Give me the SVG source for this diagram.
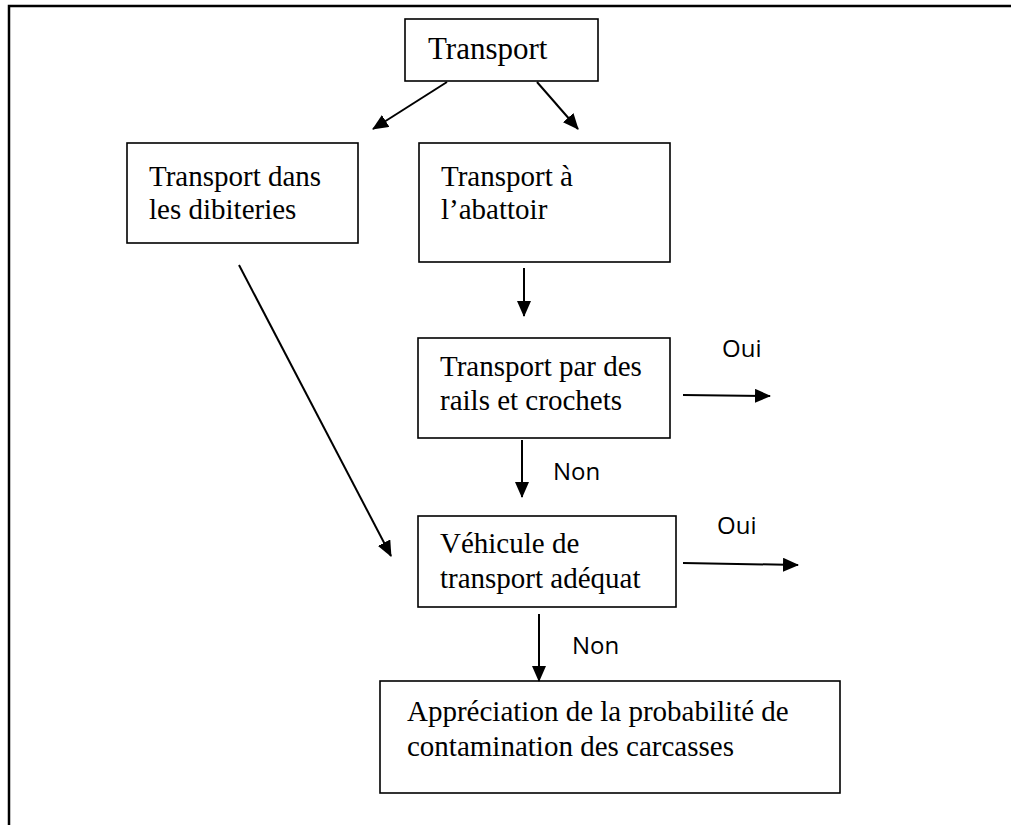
<svg xmlns="http://www.w3.org/2000/svg" width="1011" height="825" viewBox="0 0 1011 825">
<style>
.box{fill:#fff;stroke:#000;stroke-width:1.6}
.t{font-family:"Liberation Serif","Times New Roman",serif;font-size:29px;fill:#000}
.s{font-family:"Open Sans","Liberation Sans",sans-serif;font-size:24px;fill:#000}
.c{stroke:#000;stroke-width:2;fill:none}
.frame{stroke:#000;stroke-width:2.5;fill:none}
</style>
<defs>
<marker id="ah" markerUnits="userSpaceOnUse" markerWidth="16" markerHeight="14" refX="15" refY="7" orient="auto">
<path d="M0,0 L16,7 L0,14 Z" fill="#000"/>
</marker>
</defs>
<path class="frame" d="M9,825 V6 H1011"/>
<g id="n-transport">
<rect class="box" x="405" y="19" width="193" height="62"/>
<text class="t" x="428" y="59" style="font-size:31px">Transport</text>
</g>
<g id="n-dibiteries">
<rect class="box" x="127" y="143" width="231" height="100"/>
<text class="t" x="149" y="186">Transport dans</text>
<text class="t" x="149" y="219">les dibiteries</text>
</g>
<g id="n-abattoir">
<rect class="box" x="419" y="143" width="251" height="119"/>
<text class="t" x="441" y="186">Transport à</text>
<text class="t" x="441" y="219">l’abattoir</text>
</g>
<g id="n-rails">
<rect class="box" x="418" y="338" width="252" height="100"/>
<text class="t" x="440" y="376">Transport par des</text>
<text class="t" x="440" y="410">rails et crochets</text>
</g>
<g id="n-vehicule">
<rect class="box" x="418" y="516" width="258" height="91"/>
<text class="t" x="440" y="553">Véhicule de</text>
<text class="t" x="440" y="588">transport adéquat</text>
</g>
<g id="n-appreciation">
<rect class="box" x="380" y="681" width="460" height="112"/>
<text class="t" x="407" y="721">Appréciation de la probabilité de</text>
<text class="t" x="407" y="756">contamination des carcasses</text>
</g>
<g id="connectors">
<line class="c" x1="447" y1="82" x2="373" y2="129" marker-end="url(#ah)"/>
<line class="c" x1="537" y1="82" x2="578" y2="129" marker-end="url(#ah)"/>
<line class="c" x1="524" y1="268" x2="524" y2="316" marker-end="url(#ah)"/>
<line class="c" x1="239" y1="265" x2="391" y2="556" marker-end="url(#ah)"/>
<line class="c" x1="683" y1="395" x2="770" y2="396" marker-end="url(#ah)"/>
<line class="c" x1="522" y1="440" x2="522" y2="497" marker-end="url(#ah)"/>
<line class="c" x1="683" y1="563" x2="798" y2="565" marker-end="url(#ah)"/>
<line class="c" x1="539" y1="614" x2="539" y2="681" marker-end="url(#ah)"/>
</g>
<g id="labels">
<text class="s" x="722" y="357">Oui</text>
<text class="s" x="553" y="480">Non</text>
<text class="s" x="717" y="534">Oui</text>
<text class="s" x="572" y="654">Non</text>
</g>
</svg>
